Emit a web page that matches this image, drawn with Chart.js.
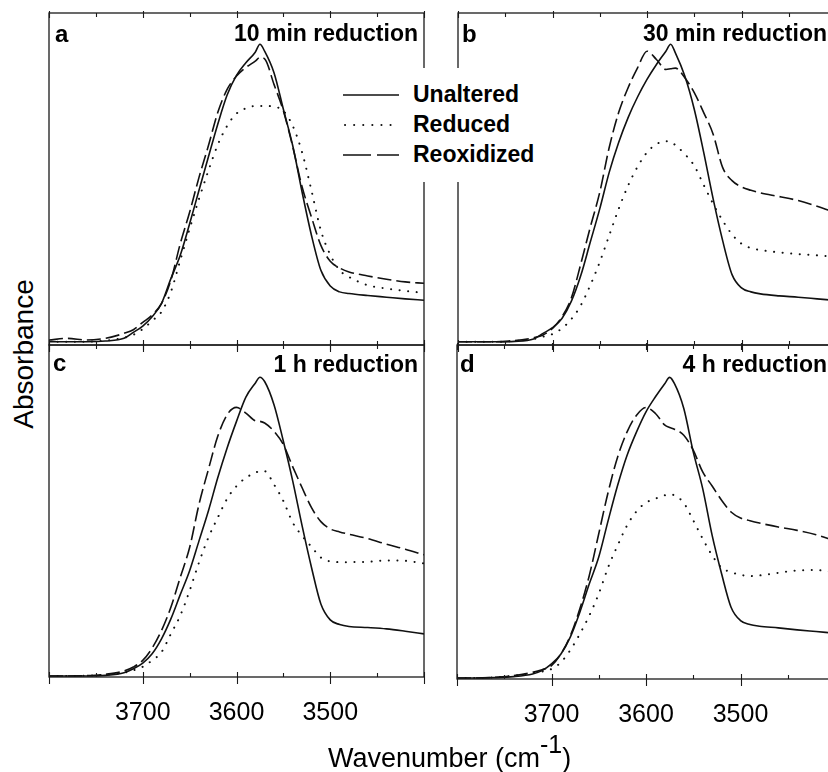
<!DOCTYPE html>
<html>
<head>
<meta charset="utf-8">
<script src="https://cdn.jsdelivr.net/npm/chart.js@4.4.1/dist/chart.umd.min.js"></script>
<style>
  html, body { margin: 0; padding: 0; background: #fff; overflow: hidden; }
  #page { position: relative; width: 828px; height: 772px; overflow: hidden;
          font-family: "Liberation Sans", Arial, Helvetica, sans-serif; color: #000; }
  canvas { position: absolute; }
  .tag { position: absolute; font-weight: bold; font-size: 23px; line-height: 23px; white-space: nowrap; }
  .letter { font-size: 24px; }
  #legend { position: absolute; left: 335px; top: 68px; width: 212px; height: 114px; background: #fff; z-index: 5; }
  #legend .row { position: absolute; left: 0; height: 30px; width: 212px; }
  #legend svg { position: absolute; left: 8px; top: 0; }
  #legend span { position: absolute; left: 78px; top: 3px; font-weight: bold; font-size: 23px; line-height: 23px; }
  #ytitle { position: absolute; left: 24px; top: 354px; font-size: 28px; line-height: 28px; white-space: nowrap;
            transform: translate(-50%, -50%) rotate(-90deg); }
  #xtitle { position: absolute; left: 328px; top: 745px; font-size: 27px; line-height: 27px; white-space: nowrap; }
  #xtitle sup { font-size: 25px; position: relative; top: -13px; vertical-align: top; line-height: 25px; }
</style>
</head>
<body>
<div id="page">
  <canvas id="pa"></canvas>
  <canvas id="pb"></canvas>
  <canvas id="pc"></canvas>
  <canvas id="pd"></canvas>

  <div class="tag letter" style="left:55px; top:22px;">a</div>
  <div class="tag" style="right:410px; top:22px;">10 min reduction</div>
  <div class="tag letter" style="left:462px; top:22px;">b</div>
  <div class="tag" style="right:1px; top:22px;">30 min reduction</div>
  <div class="tag letter" style="left:53px; top:351px;">c</div>
  <div class="tag" style="right:410px; top:353px;">1 h reduction</div>
  <div class="tag letter" style="left:460px; top:352px;">d</div>
  <div class="tag" style="right:1px; top:353px;">4 h reduction</div>

  <div id="legend">
    <div class="row" style="top:12px;">
      <svg width="58" height="30"><line x1="0" y1="15" x2="56" y2="15" stroke="#111" stroke-width="1.6"/></svg>
      <span>Unaltered</span>
    </div>
    <div class="row" style="top:42px;">
      <svg width="58" height="30"><line x1="2" y1="15" x2="56" y2="15" stroke="#111" stroke-width="2" stroke-linecap="round" stroke-dasharray="0.1 9"/></svg>
      <span>Reduced</span>
    </div>
    <div class="row" style="top:72px;">
      <svg width="58" height="30"><line x1="0" y1="15" x2="56" y2="15" stroke="#111" stroke-width="1.6" stroke-dasharray="28 6 22 6"/></svg>
      <span>Reoxidized</span>
    </div>
  </div>

  <div id="ytitle">Absorbance</div>
  <div id="xtitle">Wavenumber (cm<sup>-1</sup>)</div>
</div>

<script>
// Wavenumber grid (cm-1) shared by all spectra
const wavenumber = [3800, 3780, 3760, 3740, 3720, 3710, 3700, 3690, 3680, 3670, 3660, 3650,
  3640, 3630, 3620, 3610, 3600, 3590, 3580, 3575, 3570, 3560, 3550, 3540, 3530, 3520,
  3510, 3500, 3490, 3480, 3460, 3440, 3420, 3400];

// x axis ticks
const xTickValues = [3400, 3450, 3500, 3550, 3600, 3650, 3700, 3750, 3800];
const xTickLabels = ['3700', '3600', '3500'];

const seriesNames = ['Unaltered', 'Reduced', 'Reoxidized'];

// a: 10 min reduction
const aUnaltered = [.01, .01, .01, .012, .02, .038, .057, .085, .125, .2, .27, .365,
  .466, .566, .665, .753, .812, .85, .882, .906, .885, .82, .71, .6, .46, .33,
  .225, .178, .16, .155, .149, .144, .139, .135];
const aReduced = [.01, .01, .01, .013, .022, .031, .048, .073, .1, .16, .255, .35,
  .44, .525, .603, .66, .697, .713, .72, .72, .72, .718, .705, .66, .58, .465,
  .345, .272, .225, .205, .18, .17, .163, .157];
const aReoxidized = [.015, .02, .015, .02, .035, .046, .068, .09, .125, .195, .305, .4,
  .505, .6, .7, .77, .81, .836, .855, .866, .862, .785, .705, .597, .476, .385,
  .3, .252, .232, .22, .208, .198, .19, .186];

// b: 30 min reduction
const bUnaltered = [.01, .01, .01, .011, .018, .035, .052, .08, .132, .21, .31, .41,
  .52, .61, .685, .747, .8, .845, .885, .906, .88, .81, .71, .58, .44, .315,
  .212, .172, .16, .154, .148, .144, .139, .134];
const bReduced = [.01, .01, .01, .012, .018, .025, .033, .05, .078, .12, .18, .25,
  .33, .41, .48, .537, .58, .605, .614, .612, .602, .575, .54, .482, .425, .375,
  .333, .305, .292, .286, .279, .274, .27, .266];
const bReoxidized = [.01, .01, .01, .013, .022, .03, .05, .085, .142, .245, .355, .46,
  .595, .7, .775, .835, .885, .86, .83, .832, .834, .805, .76, .7, .635, .535,
  .495, .476, .466, .458, .447, .435, .418, .398];

// c: 1 h reduction
const cUnaltered = [.003, .003, .003, .005, .013, .025, .042, .07, .115, .175, .248, .32,
  .41, .5, .6, .69, .77, .843, .885, .903, .89, .82, .71, .59, .455, .33,
  .22, .172, .158, .152, .149, .145, .138, .13];
const cReduced = [.003, .003, .004, .007, .013, .02, .031, .05, .075, .13, .185, .26,
  .345, .42, .48, .537, .575, .6, .615, .62, .62, .58, .53, .465, .425, .392,
  .36, .348, .346, .346, .347, .351, .35, .342];
const cReoxidized = [.003, .003, .004, .008, .018, .03, .05, .087, .14, .21, .3, .39,
  .52, .625, .725, .79, .812, .795, .772, .77, .765, .74, .7, .633, .57, .51,
  .468, .446, .437, .43, .417, .4, .385, .368];

// d: 4 h reduction
const dUnaltered = [.003, .003, .004, .007, .015, .025, .045, .075, .126, .2, .285, .365,
  .475, .58, .67, .74, .8, .845, .885, .903, .885, .81, .68, .57, .43, .315,
  .215, .175, .163, .158, .153, .147, .142, .137];
const dReduced = [.003, .003, .005, .01, .018, .022, .03, .05, .087, .135, .19, .255,
  .335, .4, .46, .502, .528, .54, .55, .553, .55, .527, .475, .42, .37, .333,
  .32, .312, .308, .31, .318, .325, .326, .32];
const dReoxidized = [.003, .003, .005, .01, .02, .028, .04, .075, .13, .21, .31, .435,
  .56, .665, .74, .79, .813, .795, .76, .753, .748, .73, .685, .62, .578, .535,
  .5, .482, .474, .467, .455, .445, .432, .414];

// line styles for the three spectra
const STYLES = [
  { borderWidth: 1.6, borderDash: [] },
  { borderWidth: 2, borderDash: [0.1, 8.5], borderCapStyle: 'round' },
  { borderWidth: 1.6, borderDash: [14, 5] }
];

// panel placement on the page (plot area edges)
const PAD = 10;
const LABEL_H = 70;
const panels = [
  { id: 'pa', L: 49,  T: 13,  R: 424, B: 345, labels: false, data: [aUnaltered, aReduced, aReoxidized] },
  { id: 'pb', L: 458, T: 13,  R: 836, B: 345, labels: false, data: [bUnaltered, bReduced, bReoxidized] },
  { id: 'pc', L: 49,  T: 345, R: 424, B: 677, labels: true,  data: [cUnaltered, cReduced, cReoxidized] },
  { id: 'pd', L: 457, T: 345, R: 835, B: 679, labels: true,  data: [dUnaltered, dReduced, dReoxidized] }
];

// frame + inward ticks, placed with the x scale
const framePlugin = {
  id: 'frame',
  afterDatasetsDraw(chart) {
    const { ctx, chartArea: a, scales: { x } } = chart;
    ctx.save();
    ctx.strokeStyle = '#1a1a1a';
    ctx.lineWidth = 1.3;
    ctx.strokeRect(a.left, a.top, a.right - a.left, a.bottom - a.top);
    ctx.lineWidth = 1.1;
    ctx.beginPath();
    xTickValues.forEach(v => {
      const px = Math.round(x.getPixelForValue(v)) + 0.5;
      const major = v % 100 === 0;
      ctx.moveTo(px, a.bottom + (major ? 7 : 0));
      ctx.lineTo(px, a.bottom - (major ? 5 : 4));
      ctx.moveTo(px, a.top - (major ? 2 : 0));
      ctx.lineTo(px, a.top + (major ? 5 : 4));
    });
    ctx.stroke();
    ctx.restore();
  }
};

panels.forEach(p => {
  const canvas = document.getElementById(p.id);
  const w = p.R - p.L + 2 * PAD;
  const h = p.B - p.T + PAD + (p.labels ? LABEL_H : PAD);
  canvas.width = w;
  canvas.height = h;
  canvas.style.left = (p.L - PAD) + 'px';
  canvas.style.top = (p.T - PAD) + 'px';
  canvas.style.width = w + 'px';
  canvas.style.height = h + 'px';

  new Chart(canvas, {
    type: 'line',
    data: {
      datasets: p.data.map((vals, i) => ({
        label: seriesNames[i],
        data: wavenumber.map((wn, j) => ({ x: wn, y: vals[j] })),
        borderColor: '#111',
        ...STYLES[i],
        pointRadius: 0,
        fill: false,
        cubicInterpolationMode: 'monotone'
      }))
    },
    options: {
      responsive: false,
      animation: false,
      events: [],
      layout: { padding: { left: PAD, right: PAD, top: PAD, bottom: p.labels ? 0 : PAD } },
      scales: {
        x: {
          type: 'linear',
          min: 3400,
          max: 3800,
          reverse: true,
          display: p.labels,
          grid: { display: false, drawTicks: false },
          border: { display: false },
          afterFit: (scale) => { scale.height = p.labels ? LABEL_H : 0; },
          afterBuildTicks: (scale) => { scale.ticks = xTickValues.map(v => ({ value: v })); },
          ticks: {
            autoSkip: false,
            maxRotation: 0,
            padding: 21,
            color: '#000',
            font: { family: '"Liberation Sans", Arial, sans-serif', size: 25 },
            callback: (v) => xTickLabels.includes(String(v)) ? String(v) : ''
          }
        },
        y: { display: false, min: 0, max: 1 }
      },
      plugins: { legend: { display: false }, tooltip: { enabled: false } }
    },
    plugins: [framePlugin]
  });
});
</script>
</body>
</html>
